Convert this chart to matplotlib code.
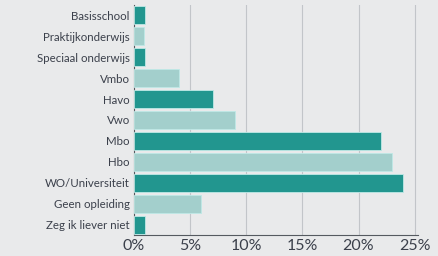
import matplotlib
matplotlib.use("Agg")
import matplotlib.pyplot as plt

categories = ["Basisschool", "Praktijkonderwijs", "Speciaal onderwijs", "Vmbo", "Havo",
              "Vwo", "Mbo", "Hbo", "WO/Universiteit", "Geen opleiding", "Zeg ik liever niet"]
values = [1, 0.9, 1, 4, 7, 9, 22, 23, 24, 6, 1]
xticks = [0, 5, 10, 15, 20, 25]
xtick_labels = ["0%", "5%", "10%", "15%", "20%", "25%"]

dark = "#22968f"
light = "#a3cfcc"
colors = [dark, light, dark, light, dark, light, dark, light, dark, light, dark]
bg = "#e9eaeb"
txt = "#3b404b"

plt.rcParams['font.family'] = ['Lato', 'DejaVu Sans']
fig = plt.figure(figsize=(4.38, 2.56), dpi=100, facecolor=bg)
ax = fig.add_axes([134/438, 1-235/256, (418-134)/438, (235-5)/256])
ax.set_facecolor(bg)
y = list(range(len(categories)))
ax.barh(y, values, height=0.86, color=colors, edgecolor="#bfe9e6", linewidth=0.6, zorder=3)
ax.set_ylim(len(categories)-0.5, -0.5)
ax.set_xlim(0, 25.3)
ax.set_yticks(y)
ax.set_yticklabels(categories, fontsize=8.3, color=txt)
ax.set_xticks(xticks)
ax.set_xticklabels(xtick_labels, fontsize=11.5, color=txt)
ax.tick_params(axis='both', length=0, pad=3)
ax.tick_params(axis='y', pad=3)
ax.grid(axis='x', color="#c2c5c9", linewidth=0.8, zorder=0)
for s in ["top", "right"]:
    ax.spines[s].set_visible(False)
ax.spines["left"].set_color("#555a60")
ax.spines["bottom"].set_color("#555a60")
ax.spines["left"].set_linewidth(0.8)
ax.spines["bottom"].set_linewidth(0.8)
fig.savefig("out.png", dpi=100, facecolor=bg)
